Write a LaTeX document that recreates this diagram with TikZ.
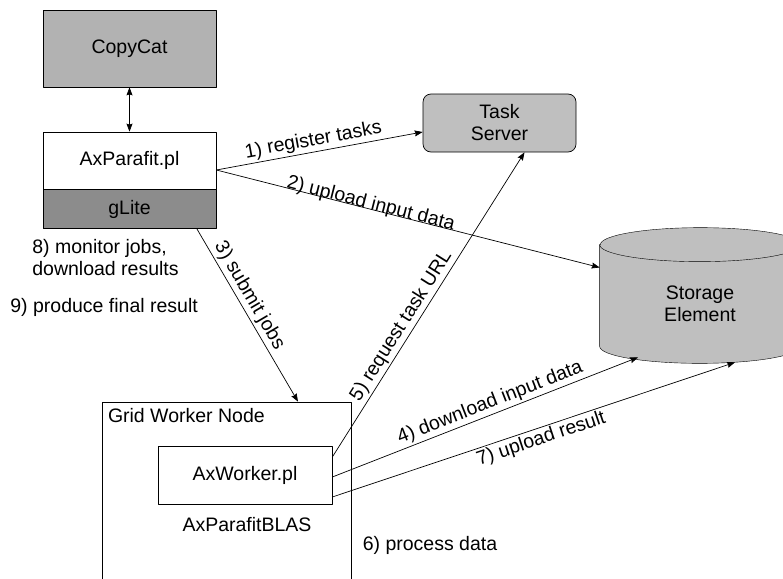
\documentclass[tikz,border=0pt]{standalone}
\usepackage{fontspec}
\setmainfont{Liberation Sans}
\usetikzlibrary{arrows.meta,positioning,backgrounds}
\begin{document}
\begin{tikzpicture}[x=1pt, y=-1pt, font=\fontsize{19.5}{22}\selectfont, line join=round, line cap=round,
		>={Stealth[length=8pt,width=6pt,inset=1pt]}, line width=0.7pt,
		box/.style={draw, minimum width=173pt, inner sep=0pt},
		lab/.style={sloped, inner sep=2pt}]
	\def\rx{100pt} \def\ry{17pt} % ban kinh elip cua cylinder
	\useasboundingbox (0,0) rectangle (783,578);
	\clip (0,0) rectangle (783,578);
	% khoi ben trai
	\node[box, fill=black!30, minimum height=77pt] (CopyCat) at (129.5,48.5) {CopyCat};
	\node[box, minimum height=57pt] (AxParafit) at (129.5,160.5) {AxParafit.pl};
	\node[box, fill=black!45, minimum height=39pt, below=0pt of AxParafit] (gLite) {gLite};
	\node[align=left, anchor=west, inner sep=0pt] (monitor) at (32,257.5) {8) monitor jobs,\\download results};
	\node[anchor=west, inner sep=0pt] (final) at (10,307) {9) produce final result};
	% server va storage
	\node[draw, fill=black!25, rounded corners=8pt, minimum width=153pt, minimum height=58pt, align=center] (TaskServer) at (499.5,123) {Task\\Server};
	\node[minimum width=200pt, minimum height=118pt, inner sep=0pt, align=center] (Storage) at (700,304) {Storage\\Element};
	\begin{scope}[on background layer]
		\draw[fill=black!25] (Storage.north west) -- ([yshift=\ry]Storage.south west) arc[start angle=180, end angle=360, x radius=\rx, y radius=\ry]
			-- (Storage.north east) arc[start angle=0, end angle=180, x radius=\rx, y radius=\ry] -- cycle;
		\draw (Storage.north west) arc[start angle=180, end angle=360, x radius=\rx, y radius=\ry];
	\end{scope}
	% grid worker node
	\node[draw, minimum width=249pt, minimum height=200pt] (GridNode) at (226.5,502) {};
	\node[anchor=west, inner sep=0pt] (gridlab) at ([xshift=6pt,yshift=-14pt]GridNode.north west) {Grid Worker Node};
	\node[draw, minimum width=174pt, minimum height=58pt] (AxWorker) at (245,475) {AxWorker.pl};
	\node (blas) at (247,525) {AxParafitBLAS};
	\node (process) at (430,545) {6) process data};
	% cac mui ten
	\draw[<->] (CopyCat) -- (AxParafit);
	\draw[->] ([yshift=-9.5pt]AxParafit.east) -- node[lab, above, pos=0.48] {1) register tasks} ([yshift=-9pt]TaskServer.west);
	\draw[->] ([yshift=-9.5pt]AxParafit.east) -- node[lab, anchor=base, pos=0.4] {2) upload input data} (Storage.160);
	\draw[->] ([xshift=67.5pt]gLite.south) -- node[lab, above, pos=0.42] {3) submit jobs} ([xshift=71.5pt]GridNode.north);
	\draw[->] ([yshift=18pt]AxWorker.east) -- node[lab, above, pos=0.41] {5) request task URL} ([xshift=25pt]TaskServer.south);
	\draw[->] ([yshift=-2pt]AxWorker.east) -- node[lab, above, pos=0.53] {4) download input data} ([xshift=-62pt,yshift=6pt]Storage.south);
	\draw[->] ([yshift=-22pt]AxWorker.east) -- node[lab, below, pos=0.51] {7) upload result} ([xshift=35pt,yshift=1pt]Storage.south);
\end{tikzpicture}
\end{document}
